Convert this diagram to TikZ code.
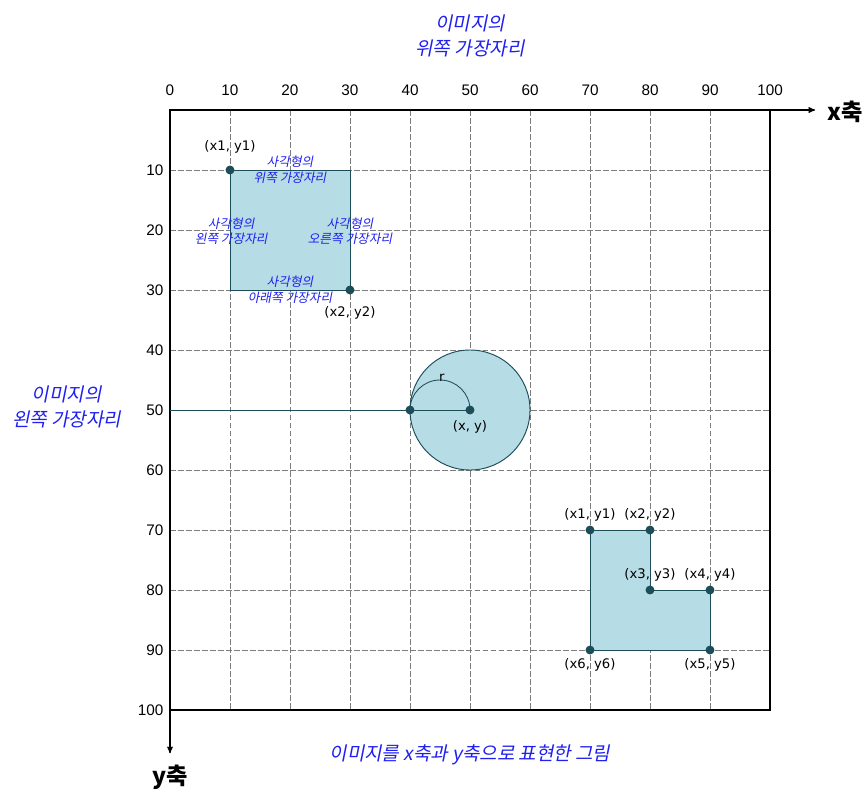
\documentclass[tikz,border=0pt]{standalone}
\usepackage{fontspec}
\setmainfont{DejaVu Sans}
\newfontfamily\tickfont{Liberation Sans}
\newfontfamily\krfont{Noto Sans CJK KR}
\newfontfamily\kritfont[FakeSlant=0.2]{Noto Sans CJK KR}
\usepackage{tikz}
\usetikzlibrary{arrows}

\definecolor{shapefill}{HTML}{B6DCE5}
\definecolor{shapeline}{HTML}{1E4D5A}
\definecolor{notecol}{HTML}{1F1FF0}
\definecolor{gridcol}{HTML}{7C7C7C}

\begin{document}
\begin{tikzpicture}[x=0.2cm,y=-0.2cm,>=stealth',
    gridline/.style={gridcol,line width=0.8pt,dash pattern=on 5.6pt off 2pt},
    frame/.style={black,line width=1.2pt},
    region/.style={draw=shapeline,fill=shapefill,line width=0.9pt},
    pt/.style={circle,fill=shapeline,inner sep=0pt,minimum size=8.5pt},
    tick/.style={font=\tickfont\fontsize{14.5}{16}\selectfont},
    lbl/.style={font=\fontsize{12.5}{14}\selectfont},
    note/.style={font=\kritfont\fontsize{12}{15}\selectfont,text=notecol,align=center},
    bignote/.style={font=\kritfont\fontsize{18}{23.5}\selectfont,text=notecol,align=center},
    axislbl/.style={font=\krfont\bfseries\fontsize{22}{24}\selectfont}]
  \useasboundingbox (-28.333,-18.333) rectangle (116.333,116.333);

  % grid
  \foreach \v in {10,20,...,90} {
    \draw[gridline] (\v,0) -- (\v,100);
    \draw[gridline] (0,\v) -- (100,\v);
  }
  \draw[frame] (0,0) rectangle (100,100);

  % axes
  \coordinate (o) at (0,0);
  \node[axislbl] (xax) at (112.5,0.3) {x축};
  \node[axislbl] (yax) at (0,111.2) {y축};
  \draw[frame,->] (o) -- (107.5,0);
  \draw[frame,->] (o) -- (0,107.2);
  \foreach \v in {0,10,...,100}
    \node[tick] (xt\v) at (\v,-3.3) {\v};
  \foreach \v in {10,20,...,100}
    \node[tick,anchor=east] (yt\v) at (-0.5,\v) {\v};

  \node[bignote] (topnote) at (50,-12.4) {이미지의\\위쪽 가장자리};
  \node[bignote] (leftnote) at (-17.2,49.5) {이미지의\\왼쪽 가장자리};
  \node[bignote] (caption) at (50,107.5) {이미지를 x축과 y축으로 표현한 그림};

  % rectangle
  \draw[region] (10,10) rectangle (30,30);
  \node[pt] (p1) at (10,10) {};
  \node[pt] (p2) at (30,30) {};
  \node[lbl] at (10,6.2) {(x1, y1)};
  \node[lbl] at (30,33.8) {(x2, y2)};
  \node[note] (rtop) at (20,10) {사각형의\\위쪽 가장자리};
  \node[note] (rleft) at (10.2,20.2) {사각형의\\왼쪽 가장자리};
  \node[note] (rright) at (30,20.2) {사각형의\\오른쪽 가장자리};
  \node[note] (rbot) at (20,30) {사각형의\\아래쪽 가장자리};

  % circle
  \draw[region] (50,50) circle [radius=10];
  \coordinate (ledge) at (0,50);
  \node[pt] (c) at (50,50) {};
  \node[pt] (rim) at (40,50) {};
  \draw[shapeline,line width=0.8pt] (ledge) -- (c.center);
  \draw[shapeline,line width=0.8pt] (rim.center) arc [start angle=180,end angle=360,radius=5];
  \node[lbl] (rlbl) at (45.3,44.6) {r};
  \node[lbl] (clbl) at (50,52.8) {(x, y)};

  % L shape
  \coordinate (l1) at (70,70);
  \coordinate (l2) at (80,70);
  \coordinate (l3) at (80,80);
  \coordinate (l4) at (90,80);
  \coordinate (l5) at (90,90);
  \coordinate (l6) at (70,90);
  \draw[region] (l1) -- (l2) -- (l3) -- (l4) -- (l5) -- (l6) -- cycle;
  \foreach \i in {1,...,6}
    \node[pt] (q\i) at (l\i) {};
  \node[lbl] at (70,67.5) {(x1, y1)};
  \node[lbl] at (80,67.5) {(x2, y2)};
  \node[lbl] at (80,77.5) {(x3, y3)};
  \node[lbl] at (90,77.5) {(x4, y4)};
  \node[lbl] at (90,92.5) {(x5, y5)};
  \node[lbl] at (70,92.5) {(x6, y6)};
\end{tikzpicture}
\end{document}
